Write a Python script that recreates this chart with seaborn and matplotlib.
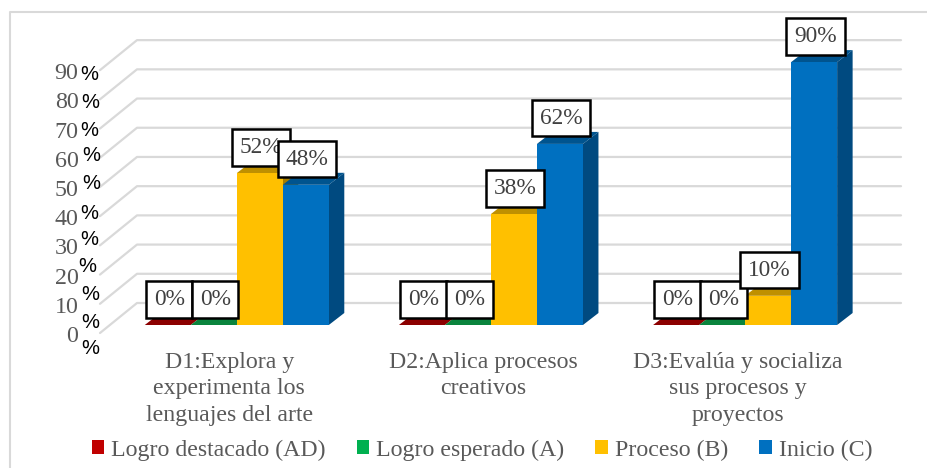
import matplotlib
matplotlib.use('Agg')
from matplotlib import pyplot as plt
from matplotlib.lines import Line2D
from matplotlib.patches import Patch, Polygon
from matplotlib.transforms import ScaledTranslation
import pandas as pd
import seaborn as sns

categories = ["D1:Explora y\nexperimenta los\nlenguajes del arte",
              "D2:Aplica procesos\ncreativos",
              "D3:Evalúa y socializa\nsus procesos y\nproyectos"]
levels = ["Logro destacado (AD)", "Logro esperado (A)", "Proceso (B)", "Inicio (C)"]
logro_destacado = [0, 0, 0]
logro_esperado = [0, 0, 0]
proceso = [52, 38, 10]
inicio = [48, 62, 90]
y_ticks = [0, 10, 20, 30, 40, 50, 60, 70, 80, 90]

front_colors = ['#C00000', '#00B050', '#FFC000', '#0070C0']
top_colors = ['#8C0000', '#0A843D', '#BF9000', '#00548F']
side_colors = ['#7A0000', '#06703A', '#A67D00', '#004A80']

W, H = 928, 468
DPI = 100

# the stray black percent signs beside the axis numbers, in image pixels
percent_x = [81, 82, 81, 83, 83, 81, 81, 79, 82, 82, 82]
percent_y = [72, 101, 128, 154, 182, 212, 238, 265, 292, 321, 346]

df = pd.DataFrame({
    'categoria': categories * 4,
    'nivel': [lv for lv in levels for _ in categories],
    'valor': logro_destacado + logro_esperado + proceso + inicio,
})

sns.set_theme(style='white')
plt.rcParams['font.family'] = ['Liberation Serif', 'DejaVu Serif']

fig = plt.figure(figsize=(W / DPI, H / DPI), dpi=DPI)
ax = fig.add_axes([109.7 / W, (H - 325) / H, 762.5 / W, 295 / H])
sns.barplot(data=df, x='categoria', y='valor', hue='nivel', hue_order=levels, order=categories,
            palette=front_colors, width=0.724, gap=0, saturation=1, legend=False, linewidth=0, ax=ax)
ax.set_xlim(-0.5, 2.5)
ax.set_ylim(0, 101)
ax.set_xlabel('')
ax.set_ylabel('')
sns.despine(ax=ax, left=True, bottom=True)
ax.patch.set_alpha(0)

px_x = 3 / 762.5
px_y = 101 / 295

# back wall gridlines with the slanted bit on the left
for tick in y_ticks:
    y0 = tick - 8 * px_y
    y1 = tick + 22 * px_y
    ax.plot([-0.5 - 9.7 * px_x, -0.5 + 27.3 * px_x, -0.5 + 791.3 * px_x], [y0, y1, y1], color='#D9D9D9',
            lw=1.6, clip_on=False, zorder=1)

# fake 3d faces on every bar
depth_x = 15.5 * px_x
depth_y = 12 * px_y
for i, container in enumerate(ax.containers):
    for bar, value in zip(container, container.datavalues):
        x0 = bar.get_x()
        x1 = x0 + bar.get_width()
        top = bar.get_height()
        bar.set_zorder(3 + 2 * i)
        ax.add_patch(Polygon([(x0, top), (x1, top), (x1 + depth_x, top + depth_y), (x0 + depth_x, top + depth_y)],
                             facecolor=top_colors[i], edgecolor='none', zorder=2.5 + 2 * i, clip_on=False))
        if top > 0:
            ax.add_patch(Polygon([(x1, 0), (x1 + depth_x, depth_y), (x1 + depth_x, top + depth_y), (x1, top)],
                                 facecolor=side_colors[i], edgecolor='none', zorder=2.5 + 2 * i, clip_on=False))
        ax.annotate(f'{value:.0f}%', (x0 + bar.get_width() / 2, top), xytext=(1, 18.5), textcoords='offset points',
                    ha='center', va='center', fontsize=16.8, color='#404040', zorder=20, annotation_clip=False,
                    bbox=dict(boxstyle='square,pad=0.33', facecolor='white', edgecolor='black', linewidth=1.8))

ax.set_yticks(y_ticks)
ax.set_yticklabels([str(t) for t in y_ticks], fontsize=17.3, color='#595959')
ax.tick_params(axis='y', length=0, pad=22.5)
ax.tick_params(axis='x', length=0, pad=19.5, labelsize=17.2, labelcolor='#595959')
for label in ax.get_yticklabels():
    label.set_transform(label.get_transform() + ScaledTranslation(0, -0.09, fig.dpi_scale_trans))
for label in ax.get_xticklabels():
    label.set_linespacing(1.33)
    label.set_transform(label.get_transform() + ScaledTranslation(-0.075, 0, fig.dpi_scale_trans))

for x, y in zip(percent_x, percent_y):
    fig.text((x + 8) / W, 1 - (y + 2) / H, '%', family='Liberation Sans', fontsize=14.5, color='black',
             ha='center', va='center')

handles = [Patch(facecolor=c, edgecolor='none') for c in front_colors]
fig.legend(handles, levels, loc='center', bbox_to_anchor=(482 / W, 1 - 450 / H), ncol=4, frameon=False,
           fontsize=17.2, labelcolor='#595959', handlelength=0.52, handleheight=0.52, handletextpad=0.3,
           columnspacing=1.3, borderpad=0)

# frame of the pasted chart, only left and top are visible
fig.add_artist(Line2D([10 / W, 10 / W, 1], [0, 1 - 12 / H, 1 - 12 / H], color='#D9D9D9', lw=1.5))

plt.savefig('out.png', dpi=DPI)
